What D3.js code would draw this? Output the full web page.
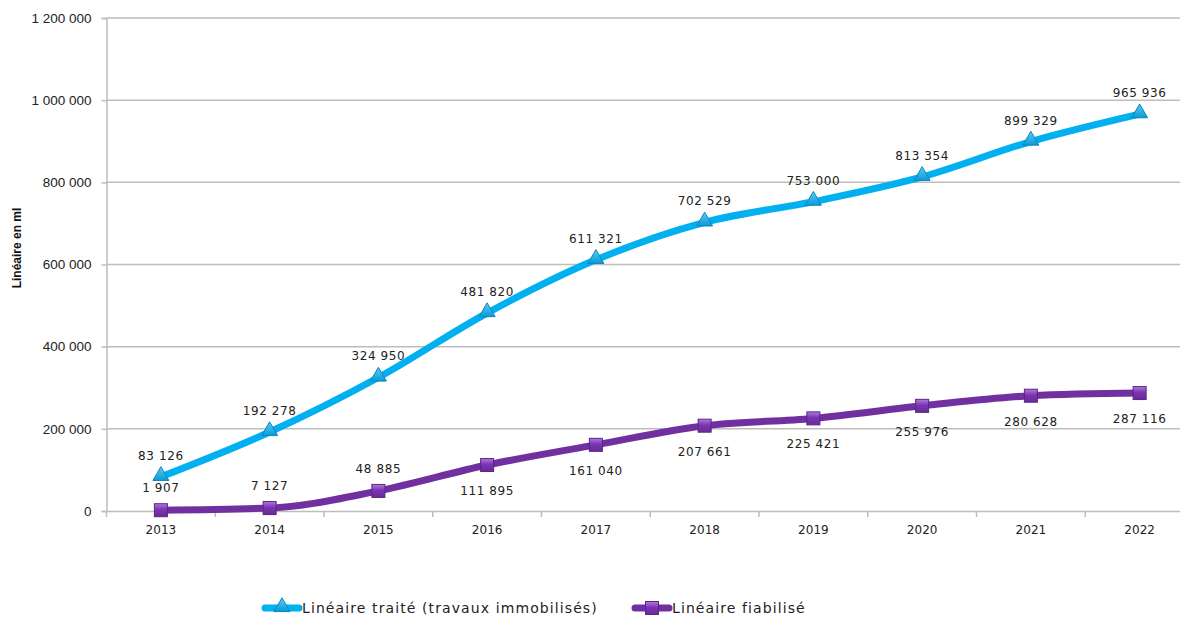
<!DOCTYPE html>
<html><head><meta charset="utf-8">
<script src="https://cdn.jsdelivr.net/npm/d3@7"></script>
<style>
body{margin:0;background:#fff;}
svg{display:block;}
</style></head>
<body>
<svg id="c" width="1180" height="618"></svg>
<script>
const years = ["2013","2014","2015","2016","2017","2018","2019","2020","2021","2022"];
const traite = [83126,192278,324950,481820,611321,702529,753000,813354,899329,965936];
const fiabilise = [1907,7127,48885,111895,161040,207661,225421,255976,280628,287116];
const yTicks = [0,200000,400000,600000,800000,1000000,1200000];
const fiabLabelPos = ["above","above","above","below","below","below","below","below","below","below"];
const seriesNames = ["Linéaire traité (travaux immobilisés)","Linéaire fiabilisé"];

const svg = d3.select("#c");
const x = d3.scaleBand().domain(years).range([106.5,1194]);
const y = d3.scaleLinear().domain([0,1200000]).range([511,18]);
const fmt = v => d3.format(",")(v).replace(/,/g," ");

const defs = svg.append("defs");
const gp = defs.append("linearGradient").attr("id","gp").attr("x1",0).attr("y1",0).attr("x2",0).attr("y2",1);
gp.append("stop").attr("offset","0%").attr("stop-color","#b07be0");
gp.append("stop").attr("offset","45%").attr("stop-color","#7a35b0");
gp.append("stop").attr("offset","100%").attr("stop-color","#6a2a9a");
const gc = defs.append("linearGradient").attr("id","gc").attr("x1",0).attr("y1",0).attr("x2",0).attr("y2",1);
gc.append("stop").attr("offset","0%").attr("stop-color","#5ccbf5");
gc.append("stop").attr("offset","100%").attr("stop-color","#0a9ad6");

// gridlines
svg.append("g").selectAll("line").data(yTicks.filter(d=>d>0)).join("line")
  .attr("x1",106.5).attr("x2",1194).attr("y1",d=>y(d)).attr("y2",d=>y(d))
  .attr("stroke","#bdbdbd").attr("stroke-width",1.5);

// y axis
const yAxis = d3.axisLeft(y).tickValues(yTicks).tickFormat(fmt).tickSize(5).tickPadding(10);
const ya = svg.append("g").attr("transform","translate(106.5,0)").call(yAxis);
ya.select(".domain").attr("stroke","#bdbdbd").attr("stroke-width",1.5);
ya.selectAll(".tick line").attr("stroke","#bdbdbd").attr("stroke-width",1.5);
ya.selectAll("text").attr("font-family","Liberation Sans, Arial, sans-serif").attr("font-size",13.5).attr("fill","#222");

// x axis
const xa = svg.append("g").attr("transform","translate(0,511)").call(d3.axisBottom(x).tickSize(0).tickPadding(14));
xa.select(".domain").attr("stroke","#bdbdbd").attr("stroke-width",1.5);
xa.selectAll("text").attr("font-family","DejaVu Sans, Verdana, sans-serif").attr("font-size",12).attr("fill","#222");
// boundary ticks
svg.append("g").selectAll("line").data(years.slice(1)).join("line")
  .attr("x1",d=>x(d)).attr("x2",d=>x(d)).attr("y1",511).attr("y2",517)
  .attr("stroke","#bdbdbd").attr("stroke-width",1.5);
svg.append("line").attr("x1",106.5).attr("x2",106.5).attr("y1",511).attr("y2",517).attr("stroke","#bdbdbd").attr("stroke-width",1.5);

// y title
svg.append("text").attr("transform","translate(21,248) rotate(-90)")
  .attr("text-anchor","middle").attr("font-family","Liberation Sans, Arial, sans-serif")
  .attr("font-size",12).attr("font-weight","bold").attr("fill","#111").text("Linéaire en ml");

const cx = d => x(d) + x.bandwidth()/2;
const line = d3.line().x((d,i)=>cx(years[i])).y(d=>y(d)).curve(d3.curveMonotoneX);

svg.append("path").datum(traite).attr("d",line).attr("fill","none")
  .attr("stroke","#00b0f0").attr("stroke-width",7).attr("stroke-linejoin","round");
svg.append("path").datum(fiabilise).attr("d",line).attr("fill","none")
  .attr("stroke","#7030a0").attr("stroke-width",7).attr("stroke-linejoin","round");

const tri = d3.symbol().type(d3.symbolTriangle).size(110);
svg.append("g").selectAll("path").data(traite).join("path")
  .attr("d",tri).attr("transform",(d,i)=>`translate(${cx(years[i])},${y(d)-1})`)
  .attr("fill","url(#gc)").attr("stroke","#0a86bf").attr("stroke-width",1);
svg.append("g").selectAll("rect").data(fiabilise).join("rect")
  .attr("x",(d,i)=>cx(years[i])-6.5).attr("y",d=>y(d)-6.5).attr("width",13).attr("height",13)
  .attr("fill","url(#gp)").attr("stroke","#5c2385").attr("stroke-width",1);

const lblFont = "DejaVu Sans, Verdana, sans-serif";
svg.append("g").selectAll("text").data(traite).join("text")
  .attr("x",(d,i)=>cx(years[i])).attr("y",d=>y(d)-17)
  .attr("text-anchor","middle").attr("font-family",lblFont).attr("font-size",12).attr("letter-spacing",0.6)
  .attr("fill","#222").text(fmt);
svg.append("g").selectAll("text").data(fiabilise).join("text")
  .attr("x",(d,i)=>cx(years[i])).attr("y",(d,i)=>fiabLabelPos[i]==="above"? y(d)-18 : y(d)+30)
  .attr("text-anchor","middle").attr("font-family",lblFont).attr("font-size",12).attr("letter-spacing",0.6)
  .attr("fill","#222").text(fmt);

// legend
const lg = svg.append("g");
const legendItems = [
  {name:seriesNames[0], color:"#00b0f0", x:263, type:"tri"},
  {name:seriesNames[1], color:"#7030a0", x:633, type:"sq"}
];
legendItems.forEach(it=>{
  lg.append("line").attr("x1",it.x+2).attr("x2",it.x+36).attr("y1",608).attr("y2",608)
    .attr("stroke",it.color).attr("stroke-width",7).attr("stroke-linecap","round");
  if(it.type==="tri"){
    lg.append("path").attr("d",tri).attr("transform",`translate(${it.x+19},607)`)
      .attr("fill","url(#gc)").attr("stroke","#0a86bf");
  } else {
    lg.append("rect").attr("x",it.x+12.5).attr("y",601.5).attr("width",13).attr("height",13)
      .attr("fill","url(#gp)").attr("stroke","#5c2385");
  }
  lg.append("text").attr("x",it.x+39).attr("y",613).attr("font-family","DejaVu Sans, sans-serif")
    .attr("font-size",14).attr("letter-spacing",1.1).attr("fill","#222").text(it.name);
});
</script>
</body></html>
